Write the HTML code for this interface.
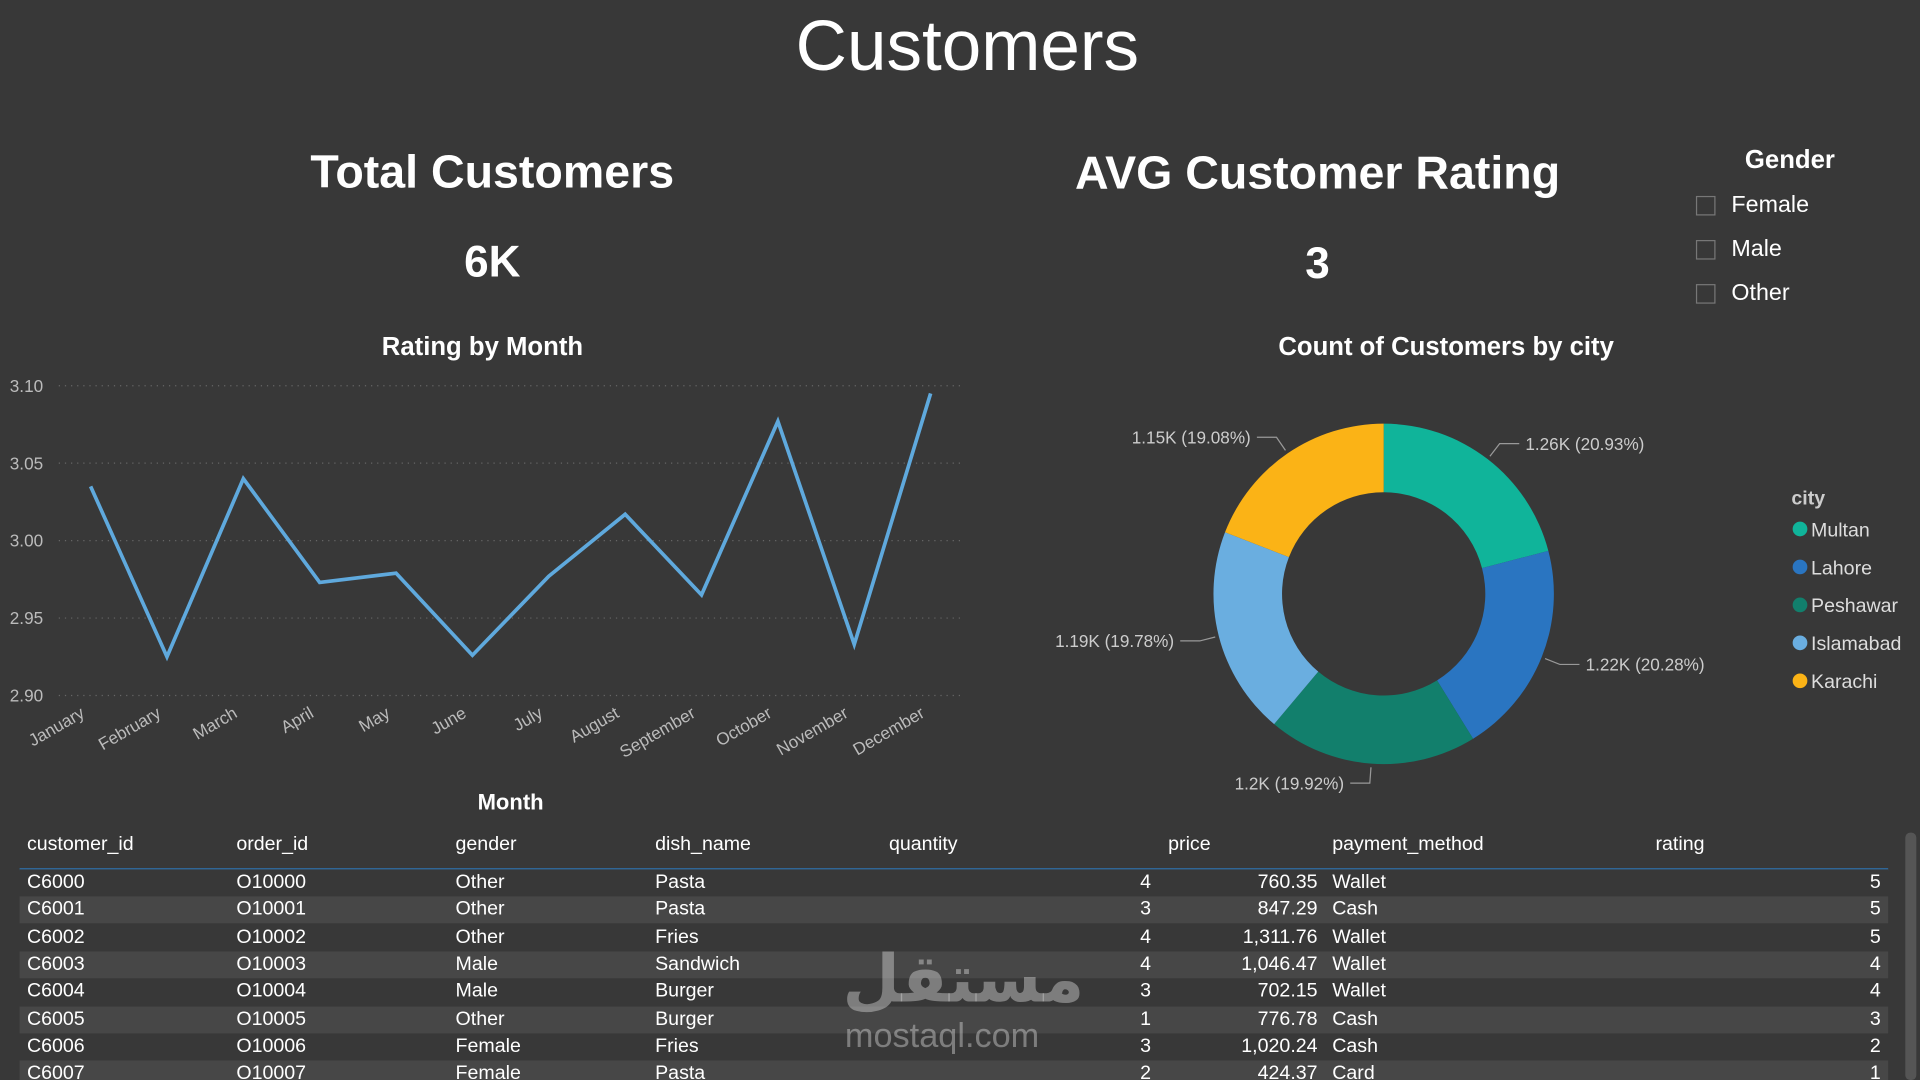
<!DOCTYPE html>
<html><head><meta charset="utf-8">
<style>
html,body{margin:0;padding:0;background:#383838;overflow:hidden;}
#stage{position:absolute;left:0;top:0;width:1568px;height:882px;transform:scale(1.22449);transform-origin:0 0;background:#383838;font-family:"Liberation Sans",sans-serif;color:#fff;overflow:hidden;}
.abs{position:absolute;}
.t{position:absolute;white-space:nowrap;}
.cb{position:absolute;width:16px;height:16px;border:1px solid #777;box-sizing:border-box;}
.row{position:absolute;left:16px;width:1526px;height:22px;font-size:16px;color:#fff;}
.row span{position:absolute;top:2px;white-space:nowrap;}
.wm{z-index:5;}
</style></head><body>
<div id="stage">
<div class="t" style="left:0;width:1580px;text-align:center;top:4px;font-size:58px;">Customers</div>

<div class="t" style="left:202px;width:400px;text-align:center;top:120px;font-size:38px;font-weight:bold;">Total Customers</div>
<div class="t" style="left:302px;width:200px;text-align:center;top:193px;font-size:36px;font-weight:bold;">6K</div>
<div class="t" style="left:826px;width:500px;text-align:center;top:121px;font-size:38px;font-weight:bold;">AVG Customer Rating</div>
<div class="t" style="left:1026px;width:100px;text-align:center;top:194px;font-size:36px;font-weight:bold;">3</div>

<div class="t" style="left:1425px;top:119px;font-size:21px;font-weight:bold;">Gender</div>
<div class="cb" style="left:1385px;top:160px;"></div>
<div class="t" style="left:1414px;top:157px;font-size:19px;">Female</div>
<div class="cb" style="left:1385px;top:196px;"></div>
<div class="t" style="left:1414px;top:193px;font-size:19px;">Male</div>
<div class="cb" style="left:1385px;top:232px;"></div>
<div class="t" style="left:1414px;top:229px;font-size:19px;">Other</div>

<svg class="abs" style="left:0;top:0" width="1568" height="882" id="svg">
<text x="394" y="290" text-anchor="middle" font-size="21" font-weight="bold" fill="#fff">Rating by Month</text>
<text x="417" y="661" text-anchor="middle" font-size="18" font-weight="bold" fill="#fff">Month</text>
<text x="1181" y="290" text-anchor="middle" font-size="21" font-weight="bold" fill="#fff">Count of Customers by city</text>
<g id="lineG"></g>
<g id="donutG"></g>
<text x="1463" y="412" font-size="16" font-weight="bold" fill="#ccc">city</text>
<g id="legG"></g>
</svg>

<div id="table"></div>
<div class="abs" style="left:1556px;top:680px;width:9px;height:202px;background:#555;border-radius:4px;"></div>

<div class="t wm" style="left:688px;top:768px;font-size:54px;color:rgba(210,210,210,0.45);font-family:'DejaVu Sans',sans-serif;font-weight:bold;">مستقل</div>
<div class="t wm" style="left:690px;top:830px;font-size:28px;color:rgba(210,210,210,0.45);">mostaql.com</div>
</div>
<script>
const months=["January","February","March","April","May","June","July","August","September","October","November","December"];
const ratings=[3.035,2.925,3.040,2.973,2.979,2.926,2.977,3.017,2.965,3.077,2.933,3.095];
const yTicks=[3.10,3.05,3.00,2.95,2.90];
const cities=["Multan","Lahore","Peshawar","Islamabad","Karachi"];
const counts=[1260,1220,1200,1190,1150];
const countLabels=["1.26K (20.93%)","1.22K (20.28%)","1.2K (19.92%)","1.19K (19.78%)","1.15K (19.08%)"];
const cityColors=["#10b49a","#2a75c1","#127f6c","#6aaee0","#fbb316"];
const headers=["customer_id","order_id","gender","dish_name","quantity","price","payment_method","rating"];
const rows=[
["C6000","O10000","Other","Pasta","4","760.35","Wallet","5"],
["C6001","O10001","Other","Pasta","3","847.29","Cash","5"],
["C6002","O10002","Other","Fries","4","1,311.76","Wallet","5"],
["C6003","O10003","Male","Sandwich","4","1,046.47","Wallet","4"],
["C6004","O10004","Male","Burger","3","702.15","Wallet","4"],
["C6005","O10005","Other","Burger","1","776.78","Cash","3"],
["C6006","O10006","Female","Fries","3","1,020.24","Cash","2"],
["C6007","O10007","Female","Pasta","2","424.37","Card","1"]];

const NS="http://www.w3.org/2000/svg";
function mk(tag,attrs,parent){const e=document.createElementNS(NS,tag);for(const k in attrs)e.setAttribute(k,attrs[k]);parent.appendChild(e);return e;}
const yS=v=>315+(3.10-v)/0.20*253;
const xS=i=>74+i*(760-74)/(months.length-1);
const lg=document.getElementById('lineG');
yTicks.forEach(v=>{
 const l=mk('line',{x1:48,x2:785,y1:yS(v),y2:yS(v),stroke:'#666','stroke-dasharray':'1 4'},lg);
 
 
 const t=mk('text',{x:8,y:yS(v)+5,'font-size':14,fill:'#bbb'},lg);t.textContent=v.toFixed(2);
 
 
});
months.forEach((m,i)=>{
 const t=mk('text',{x:xS(i)-4,y:585,'font-size':14,fill:'#bbb','text-anchor':'end',transform:`rotate(-30 ${xS(i)-4} 585)`},lg);t.textContent=m;
 
 
});
const p=mk('polyline',{points:ratings.map((v,i)=>xS(i)+','+yS(v)).join(' '),fill:'none',stroke:'#5fa9dd','stroke-width':3,'stroke-linejoin':'miter'},lg);



const dg=document.getElementById('donutG');
const cx=1130,cy=485,R=139,r=83;
const tot=counts.reduce((a,b)=>a+b,0);
let a0=0;
counts.forEach((c,i)=>{
 const a1=a0+c/tot*2*Math.PI;
 const pt=(rad,a)=>[cx+rad*Math.sin(a),cy-rad*Math.cos(a)];
 const [x1,y1]=pt(R,a0),[x2,y2]=pt(R,a1),[x3,y3]=pt(r,a1),[x4,y4]=pt(r,a0);
 const lf=(a1-a0)>Math.PI?1:0;
 const s=mk('path',{d:`M${x1},${y1}A${R},${R} 0 ${lf} 1 ${x2},${y2}L${x3},${y3}A${r},${r} 0 ${lf} 0 ${x4},${y4}Z`,fill:cityColors[i]},dg);
 
 
 const am=(a0+a1)/2;
 const [lx,ly]=pt(R+3,am),[mx,my]=pt(R+16,am);
 const right=Math.sin(am)>=0;
 const ex=mx+(right?16:-16);
 const ln=mk('polyline',{points:`${lx},${ly} ${mx},${my} ${ex},${my}`,fill:'none',stroke:'#999','stroke-width':1},dg);
 
 
 const t=mk('text',{x:ex+(right?5:-5),y:my+5,'font-size':14,fill:'#ccc','text-anchor':right?'start':'end'},dg);t.textContent=countLabels[i];
 
 
 a0=a1;
});
const leg=document.getElementById('legG');
cities.forEach((c,i)=>{
 const y=432+i*31;
 const d=mk('circle',{cx:1470,cy:y,r:6,fill:cityColors[i]},leg);
 
 
 const t=mk('text',{x:1479,y:y+6,'font-size':16,fill:'#ddd'},leg);t.textContent=c;
 
 
});

const tb=document.getElementById('table');
const colX=[6,177,356,519,924,1060,1072,1520];
const colR=[0,0,0,0,1,1,0,1];
const hdr=document.createElement('div');
hdr.className='row';hdr.style.top='679px';


const hx=[6,177,356,519,710,938,1072,1336];
headers.forEach((h,i)=>{const s=document.createElement('span');s.textContent=h;s.style.left=hx[i]+'px';hdr.appendChild(s);});
tb.appendChild(hdr);
const bl=document.createElement('div');bl.className='abs';bl.style.cssText='left:16px;top:709px;width:1526px;height:2px;background:#2f6fa8';


tb.appendChild(bl);
rows.forEach((r,ri)=>{
 const d=document.createElement('div');d.className='row';
 d.style.top=(710+ri*22.3)+'px';
 d.style.background=ri%2?'#474747':'#383838';
 
 
 r.forEach((v,i)=>{const s=document.createElement('span');s.textContent=v;
  if(colR[i]){s.style.right=(1526-colX[i])+'px';}else s.style.left=colX[i]+'px';
  d.appendChild(s);});
 tb.appendChild(d);
});
</script>
</body></html>
